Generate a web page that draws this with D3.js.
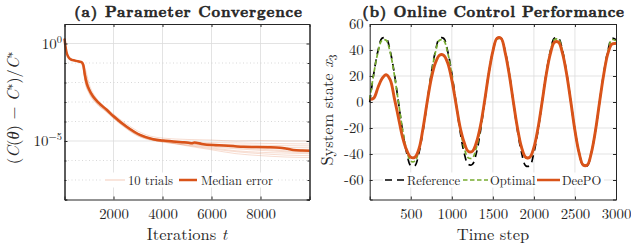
<!DOCTYPE html>
<html>
<head>
<meta charset="utf-8">
<script src="https://cdn.jsdelivr.net/npm/d3@7"></script>
<style>
  body { margin: 0; background: #fff; }
</style>
</head>
<body>
<div id="chart"></div>
<script>
// ---- data (a): log10 of relative error ----
const medianT = [0, 40, 90, 150, 224, 428, 700, 767, 830, 906, 1000, 1176, 1400, 1722, 1992, 2539, 3082, 3624, 4033, 4441, 4800, 5053, 5200, 5300, 5600, 6073, 6500, 6890, 7300, 7845, 8300, 8796, 9100, 9339, 9700, 10000];
const medianLog = [0.25, -0.15, -0.49, -0.68, -0.79, -0.88, -0.96, -1.10, -1.6, -2.04, -2.35, -2.73, -3.05, -3.40, -3.72, -4.27, -4.69, -4.91, -4.98, -5.02, -5.06, -5.09, -5.12, -5.08, -5.15, -5.21, -5.23, -5.26, -5.30, -5.31, -5.32, -5.34, -5.40, -5.46, -5.49, -5.50];

const trialT = [0, 100, 300, 650, 750, 850, 1000, 1300, 1700, 2000, 2500, 3000, 3500, 4000, 5000, 6000, 7000, 8000, 9000, 10000];
const trial1 = [0.25, -0.50, -0.80, -0.93, -1.00, -1.30, -2.05, -2.80, -3.30, -3.62, -4.10, -4.50, -4.75, -4.85, -4.92, -4.95, -5.00, -4.98, -5.00, -5.00];
const trial2 = [0.25, -0.53, -0.83, -0.96, -1.15, -1.90, -2.45, -3.00, -3.45, -3.80, -4.30, -4.70, -4.90, -5.00, -5.05, -5.08, -5.10, -5.12, -5.14, -5.15];
const trial3 = [0.25, -0.52, -0.82, -0.95, -1.08, -1.80, -2.38, -2.95, -3.40, -3.75, -4.25, -4.65, -4.90, -5.02, -5.12, -5.18, -5.20, -5.22, -5.24, -5.25];
const trial4 = [0.25, -0.51, -0.81, -0.94, -1.02, -1.55, -2.25, -2.88, -3.35, -3.70, -4.20, -4.62, -4.86, -4.96, -5.05, -5.15, -5.25, -5.30, -5.33, -5.35];
const trial5 = [0.25, -0.54, -0.84, -0.97, -1.20, -2.00, -2.50, -3.05, -3.48, -3.82, -4.32, -4.72, -4.93, -5.00, -5.10, -5.22, -5.30, -5.36, -5.42, -5.45];
const trial6 = [0.25, -0.52, -0.82, -0.95, -1.06, -1.70, -2.32, -2.90, -3.38, -3.72, -4.24, -4.66, -4.90, -5.00, -5.12, -5.25, -5.35, -5.42, -5.50, -5.55];
const trial7 = [0.25, -0.50, -0.80, -0.93, -1.01, -1.45, -2.20, -2.85, -3.32, -3.66, -4.18, -4.60, -4.85, -4.98, -5.15, -5.30, -5.40, -5.48, -5.55, -5.60];
const trial8 = [0.25, -0.55, -0.85, -0.98, -1.25, -2.05, -2.55, -3.08, -3.50, -3.85, -4.35, -4.75, -4.95, -5.05, -5.20, -5.35, -5.50, -5.58, -5.62, -5.65];
const trial9 = [0.25, -0.53, -0.83, -0.96, -1.12, -1.85, -2.42, -2.98, -3.43, -3.78, -4.28, -4.68, -4.92, -5.05, -5.22, -5.40, -5.55, -5.65, -5.72, -5.75];
const trial10 = [0.25, -0.51, -0.81, -0.94, -1.04, -1.60, -2.30, -2.92, -3.36, -3.70, -4.22, -4.64, -4.88, -5.00, -5.25, -5.45, -5.65, -5.75, -5.82, -5.85];
const trials = [trial1, trial2, trial3, trial4, trial5, trial6, trial7, trial8, trial9, trial10];

const iterTicks = [2000, 4000, 6000, 8000];
const errMajorTicks = [1e0, 1e-5];
const errMinorTicks = [1e1, 1e-1, 1e-2, 1e-3, 1e-4, 1e-6, 1e-7, 1e-8];

// ---- data (b): system state x3 every 50 time steps ----
const timeSteps = d3.range(0, 3001, 50);
const reference = [0, 22, 39, 49, 49, 39, 22, 0, -22, -39, -49, -49, -39, -22,
  0, 22, 39, 49, 49, 39, 22, 0, -22, -39, -48, -48, -39, -22,
  0, 22, 39, 49, 49, 39, 22, 0, -22, -39, -49, -49, -39, -22,
  0, 22, 39, 49, 49, 39, 22, 0, -22, -39, -49, -49, -39, -22,
  0, 22, 39, 49, 48];
const optimal = [2, 22, 38, 47.5, 47.5, 38, 21, 0, -21, -37, -45.5, -45.5, -37, -21,
  0, 21, 38, 47.5, 47.5, 38, 21, 0, -20, -35, -43, -43, -35, -20,
  0, 22, 38.5, 48.5, 48.5, 38.5, 21.5, 0, -20, -35, -43, -43, -35, -20,
  0, 21.5, 38.5, 48, 48, 38.5, 21.5, 0, -21.5, -38.5, -48, -48, -38.5, -21.5,
  0, 21.5, 38.5, 48, 47];
const deepo = [2, 3, 11, 18, 21, 17, 3, -12, -27, -37, -42.5, -42.5, -36, -20,
  0, 18, 30, 36, 36, 30, 17, -1, -19, -31, -38, -38, -31, -18,
  1, 22, 39, 49, 49, 38, 21, 0, -20, -35, -42.5, -42.5, -35, -20,
  0, 21, 37, 46, 46, 37, 21, 0, -22, -39, -48.5, -48.5, -39, -22,
  0, 21, 37, 44.5, 45];
const stateTicks = [-60, -40, -20, 0, 20, 40, 60];
const timeTicks = [500, 1000, 1500, 2000, 2500, 3000];

const orange = "#D95319", green = "#77AC30", ink = "#262626";
const LM = "Latin Modern Roman, Liberation Serif, serif";

const svg = d3.select("#chart").append("svg")
  .attr("width", 631).attr("height", 248)
  .attr("font-family", LM);

function txt(g, x, y, size) {
  return g.append("text").attr("x", x).attr("y", y)
    .attr("font-family", LM).attr("font-size", size).attr("fill", ink);
}

// ================= panel (a) =================
const xA = d3.scaleLinear().domain([0, 10000]).range([64.5, 309.5]);
const yA = d3.scaleLog().domain([1e-8, 1e1]).range([199.5, 24]);
const gA = svg.append("g");

// grid
gA.selectAll(".vg").data(iterTicks).join("line")
  .attr("x1", d => xA(d)).attr("x2", d => xA(d))
  .attr("y1", 24).attr("y2", 199.5)
  .attr("stroke", "#dcdcdc").attr("stroke-width", 0.8);
gA.selectAll(".hmin").data(errMinorTicks.filter(d => d > 1e-8 && d < 1e1)).join("line")
  .attr("x1", 64.5).attr("x2", 309.5)
  .attr("y1", d => yA(d)).attr("y2", d => yA(d))
  .attr("stroke", "#cfcfcf").attr("stroke-width", 0.8)
  .attr("stroke-dasharray", "1,2.5");
gA.selectAll(".hmaj").data(errMajorTicks).join("line")
  .attr("x1", 64.5).attr("x2", 309.5)
  .attr("y1", d => yA(d)).attr("y2", d => yA(d))
  .attr("stroke", "#dcdcdc").attr("stroke-width", 0.8);

// lines
const lineA = d3.line().curve(d3.curveMonotoneX);
trials.forEach(tr => {
  gA.append("path")
    .attr("d", lineA(trialT.map((t, i) => [xA(t), yA(Math.pow(10, tr[i]))])))
    .attr("fill", "none").attr("stroke", orange)
    .attr("stroke-opacity", 0.25).attr("stroke-width", 0.8);
});
gA.append("path")
  .attr("d", lineA(medianT.map((t, i) => [xA(t), yA(Math.pow(10, medianLog[i]))])))
  .attr("fill", "none").attr("stroke", orange).attr("stroke-width", 2.5);

// axes: box + inward ticks
gA.append("g").attr("transform", "translate(0,199.5)")
  .call(d3.axisBottom(xA).tickValues(iterTicks).tickSize(-3).tickPadding(9).tickFormat(d3.format("d")));
gA.append("g").attr("transform", "translate(0,24)")
  .call(d3.axisTop(xA).tickValues(iterTicks).tickSize(-3).tickFormat(""));
gA.append("g").attr("transform", "translate(64.5,0)")
  .call(d3.axisLeft(yA).tickValues(errMinorTicks).tickSize(-2).tickFormat(""));
gA.append("g").attr("transform", "translate(309.5,0)")
  .call(d3.axisRight(yA).tickValues(errMinorTicks).tickSize(-2).tickFormat(""));
gA.append("g").attr("transform", "translate(64.5,0)")
  .call(d3.axisLeft(yA).tickValues(errMajorTicks).tickSize(-3).tickFormat(""));
gA.append("g").attr("transform", "translate(309.5,0)")
  .call(d3.axisRight(yA).tickValues(errMajorTicks).tickSize(-3).tickFormat(""));

// log tick labels 10^k
errMajorTicks.forEach(v => {
  const k = Math.round(Math.log10(v));
  const t = txt(gA, 62, yA(v) + 5, 15).attr("text-anchor", "end");
  t.append("tspan").text("10");
  t.append("tspan").attr("dy", -6).attr("font-size", 10.5).text(k === 0 ? "0" : "\u2212" + Math.abs(k));
});

// ================= panel (b) =================
const xB = d3.scaleLinear().domain([0, 3000]).range([369.7, 616]);
const yB = d3.scaleLinear().domain([-75, 60]).range([199.5, 24]);
const gB = svg.append("g");

gB.selectAll(".vg").data(timeTicks.filter(d => d < 3000)).join("line")
  .attr("x1", d => xB(d)).attr("x2", d => xB(d))
  .attr("y1", 24).attr("y2", 199.5)
  .attr("stroke", "#dcdcdc").attr("stroke-width", 0.8);
gB.selectAll(".hg").data(stateTicks.filter(d => d < 60)).join("line")
  .attr("x1", 369.7).attr("x2", 616)
  .attr("y1", d => yB(d)).attr("y2", d => yB(d))
  .attr("stroke", "#dcdcdc").attr("stroke-width", 0.8);

const lineB = d3.line().curve(d3.curveCatmullRom);
gB.append("path")
  .attr("d", lineB(timeSteps.map((t, i) => [xB(t), yB(reference[i])])))
  .attr("fill", "none").attr("stroke", "#000").attr("stroke-width", 1.7)
  .attr("stroke-dasharray", "7,5");
gB.append("path")
  .attr("d", lineB(timeSteps.map((t, i) => [xB(t), yB(optimal[i])])))
  .attr("fill", "none").attr("stroke", green).attr("stroke-width", 1.7)
  .attr("stroke-dasharray", "4.5,2.5");
gB.append("path")
  .attr("d", lineB(timeSteps.map((t, i) => [xB(t), yB(deepo[i])])))
  .attr("fill", "none").attr("stroke", orange).attr("stroke-width", 2.9);

gB.append("g").attr("transform", "translate(0,199.5)")
  .call(d3.axisBottom(xB).tickValues(timeTicks).tickSize(-3).tickPadding(9).tickFormat(d3.format("d")));
gB.append("g").attr("transform", "translate(0,24)")
  .call(d3.axisTop(xB).tickValues(timeTicks).tickSize(-3).tickFormat(""));
gB.append("g").attr("transform", "translate(369.7,0)")
  .call(d3.axisLeft(yB).tickValues(stateTicks).tickSize(-3).tickPadding(6).tickFormat(d => String(d)));
gB.append("g").attr("transform", "translate(616,0)")
  .call(d3.axisRight(yB).tickValues(stateTicks).tickSize(-3).tickFormat(""));

// axis styling shared
svg.selectAll(".domain").attr("stroke", ink).attr("stroke-width", 1);
svg.selectAll(".tick line").attr("stroke", ink);
svg.selectAll("g[font-family]").attr("font-family", LM);
svg.selectAll(".tick text").attr("font-family", LM).attr("font-size", 14.8).attr("fill", ink);

// ================= legends =================
function legend(g, x0, x1, items) {
  g.append("rect").attr("x", x0).attr("y", 172.5).attr("width", x1 - x0).attr("height", 15).attr("fill", "#fff");
  items.forEach(it => {
    g.append("line").attr("x1", it.l0).attr("x2", it.l1).attr("y1", 180).attr("y2", 180)
      .attr("stroke", it.color).attr("stroke-width", it.w)
      .attr("stroke-opacity", it.op || 1)
      .attr("stroke-dasharray", it.dash || null);
    txt(g, it.tx, 184.5, 12.6).text(it.label);
  });
}
legend(gA, 103, 277, [
  { l0: 105, l1: 125, color: orange, w: 0.9, op: 0.35, tx: 128, label: "10 trials" },
  { l0: 179, l1: 197, color: orange, w: 2.5, tx: 201, label: "Median error" }
]);
legend(gB, 383, 604, [
  { l0: 385, l1: 405, color: "#000", w: 1.7, dash: "7,5", tx: 407, label: "Reference" },
  { l0: 463, l1: 488, color: green, w: 1.7, dash: "4.5,2.5", tx: 490, label: "Optimal" },
  { l0: 537, l1: 560, color: orange, w: 2.5, tx: 562, label: "DeePO" }
]);

// ================= titles & labels =================
function title(x, label, width) {
  return txt(svg, x, 16.5, 15).attr("text-anchor", "middle")
    .attr("font-weight", "bold").attr("stroke", ink).attr("stroke-width", 0.55)
    .attr("textLength", width).attr("lengthAdjust", "spacing")
    .text(label);
}
title(188, "(a) Parameter Convergence", 228);
title(493, "(b) Online Control Performance", 262);

const xlA = txt(svg, 187, 240, 16.5).attr("text-anchor", "middle");
xlA.append("tspan").text("Iterations ");
xlA.append("tspan").attr("font-style", "italic").text("t");

txt(svg, 493, 240, 16.5).attr("text-anchor", "middle").text("Time step");

const ylA = txt(svg, 0, 0, 16.5).attr("transform", "translate(19,108) rotate(-90)")
  .attr("text-anchor", "middle");
ylA.append("tspan").text("(");
ylA.append("tspan").attr("font-style", "italic").text("C");
ylA.append("tspan").text("(");
ylA.append("tspan").attr("font-style", "italic").attr("font-family", "Liberation Serif").text("\u03B8");
ylA.append("tspan").text(") \u2212 ");
ylA.append("tspan").attr("font-style", "italic").text("C");
ylA.append("tspan").attr("dy", -6).attr("font-size", 11).text("\u2217");
ylA.append("tspan").attr("dy", 6).text(")/");
ylA.append("tspan").attr("font-style", "italic").text("C");
ylA.append("tspan").attr("dy", -6).attr("font-size", 11).text("\u2217");

const ylB = txt(svg, 0, 0, 16.5).attr("transform", "translate(333,110) rotate(-90)")
  .attr("text-anchor", "middle");
ylB.append("tspan").text("System state ");
ylB.append("tspan").attr("font-style", "italic").text("x");
ylB.append("tspan").attr("dy", 4).attr("font-size", 11.5).text("3");
</script>
</body>
</html>
